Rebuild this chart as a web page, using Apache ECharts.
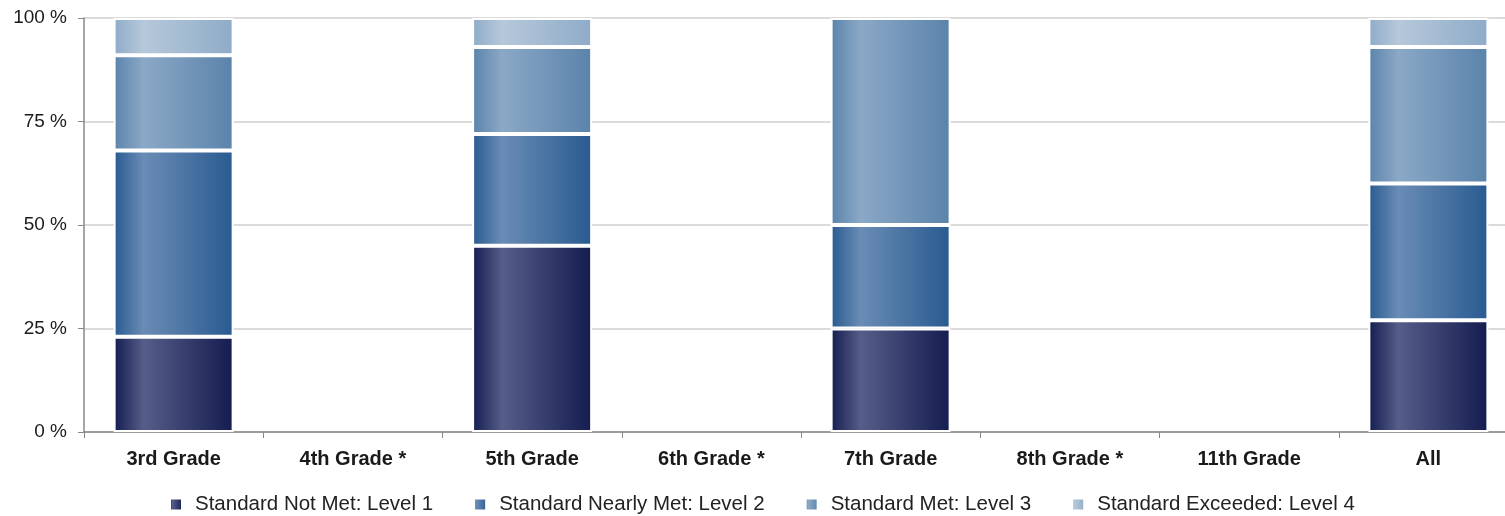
<!DOCTYPE html>
<html><head><meta charset="utf-8">
<script src="https://cdn.jsdelivr.net/npm/echarts@6/dist/echarts.min.js"></script>
<style>html,body{margin:0;padding:0;background:#fff}#c{width:1505px;height:516px}</style>
</head><body><div id="c"></div>
<script>
const categories = ['3rd Grade','4th Grade *','5th Grade','6th Grade *','7th Grade','8th Grade *','11th Grade','All'];
const seriesNames = ['Standard Not Met: Level 1','Standard Nearly Met: Level 2','Standard Met: Level 3','Standard Exceeded: Level 4'];
const level1 = [23, null, 45, null, 25, null, null, 27];
const level2 = [45, null, 27, null, 25, null, null, 33];
const level3 = [23, null, 21, null, 50, null, null, 33];
const level4 = [9, null, 7, null, null, null, null, 7];
const yTicks = [0, 25, 50, 75, 100];

const palette = [
  ['#141c50', '#565d88'],
  ['#285a90', '#6a8cb5'],
  ['#5a83ab', '#8ba8c6'],
  ['#8eabc8', '#b6c8da']
];
function grad(p){
  return new echarts.graphic.LinearGradient(0,0,1,0,[
    {offset:0,color:p[0]},{offset:0.25,color:p[1]},{offset:1,color:p[0]}
  ]);
}
const data = [level1, level2, level3, level4];
const chart = echarts.init(document.getElementById('c'));
chart.setOption({
  animation:false,
  grid:{left:84, width:1434, top:18, bottom:84, containLabel:false, outerBoundsMode:'none'},
  legend:{
    top:489, left:164, itemWidth:12, itemHeight:12, itemGap:40,
    icon:'rect',
    textStyle:{fontFamily:'Liberation Sans, Arial', fontSize:20.5, color:'#222', padding:[0,0,0,8]},
    data: seriesNames
  },
  xAxis:{
    type:'category', data:categories,
    axisLine:{lineStyle:{color:'#888', width:1.5}},
    axisTick:{show:true, length:6, lineStyle:{color:'#888'}},
    axisLabel:{fontFamily:'Liberation Sans, Arial', fontWeight:'bold', fontSize:20, color:'#1a1a1a', margin:17}
  },
  yAxis:{
    type:'value', min:0, max:100, interval:25,
    axisLine:{show:true, lineStyle:{color:'#888', width:1.5}},
    axisTick:{show:true, length:6, lineStyle:{color:'#888'}},
    splitLine:{lineStyle:{color:'#cfcfcf', width:1.5}},
    axisLabel:{fontFamily:'Liberation Sans, Arial', fontSize:19, color:'#1a1a1a', margin:17,
      formatter: v => yTicks.includes(v) ? v + ' %' : ''}
  },
  series: seriesNames.map((n,i)=>({
    name:n, type:'bar', stack:'s', barWidth:120,
    data: data[i],
    color: palette[i][0],
    itemStyle:{color:grad(palette[i]), borderColor:'#ffffff', borderWidth:2},
    emphasis:{disabled:true}
  }))
});
</script></body></html>
